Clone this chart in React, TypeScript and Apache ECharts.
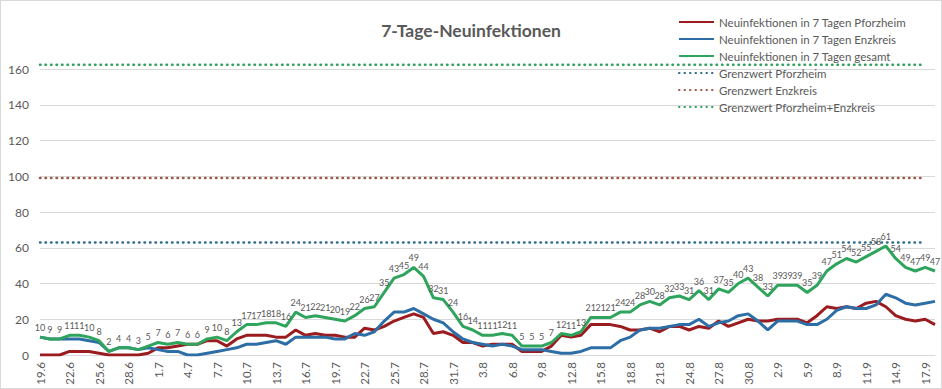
import React, { useEffect, useRef } from "react";
import * as echarts from "echarts";

const categories: string[] = [
  "19.6", "20.6", "21.6", "22.6", "23.6", "24.6", "25.6", "26.6", "27.6", "28.6", "29.6", "30.6",
  "1.7", "2.7", "3.7", "4.7", "5.7", "6.7", "7.7", "8.7", "9.7", "10.7", "11.7", "12.7", "13.7", "14.7", "15.7",
  "16.7", "17.7", "18.7", "19.7", "20.7", "21.7", "22.7", "23.7", "24.7", "25.7", "26.7", "27.7", "28.7", "29.7",
  "30.7", "31.7",
  "1.8", "2.8", "3.8", "4.8", "5.8", "6.8", "7.8", "8.8", "9.8", "10.8", "11.8", "12.8", "13.8", "14.8", "15.8",
  "16.8", "17.8", "18.8", "19.8", "20.8", "21.8", "22.8", "23.8", "24.8", "25.8", "26.8", "27.8", "28.8", "29.8",
  "30.8", "31.8",
  "1.9", "2.9", "3.9", "4.9", "5.9", "6.9", "7.9", "8.9", "9.9", "10.9", "11.9", "12.9", "13.9", "14.9", "15.9",
  "16.9", "17.9", "18.9",
];

const pforzheim: number[] = [
  0, 0, 0, 2, 2, 2, 1, 0, 0, 0, 0, 1,
  4, 4, 5, 6, 6, 8, 8, 5, 9, 11, 11, 11, 10, 10, 14, 11, 12, 11, 11, 10, 10, 15, 14, 16, 19, 21, 23, 21, 12, 13, 11,
  7, 7, 5, 6, 6, 6, 2, 2, 2, 5, 11, 10, 11, 17, 17, 17, 16, 14, 14, 15, 13, 16, 16, 14, 16, 15, 19, 16, 18, 20, 19,
  19, 20, 20, 20, 18, 22, 27, 26, 27, 26, 29, 30, 27, 22, 20, 19, 20, 17,
];

const enzkreis: number[] = [
  10, 9, 9, 9, 9, 8, 7, 2, 4, 4, 3, 4,
  3, 2, 2, 0, 0, 1, 2, 3, 4, 6, 6, 7, 8, 6, 10, 10, 10, 10, 9, 9, 12, 11, 13, 19, 24, 24, 26, 23, 20, 18, 13,
  9, 7, 6, 5, 6, 5, 3, 3, 3, 2, 1, 1, 2, 4, 4, 4, 8, 10, 14, 15, 15, 16, 17, 17, 20, 16, 18, 19, 22, 23, 19,
  14, 19, 19, 19, 17, 17, 20, 25, 27, 26, 26, 28, 34, 32, 29, 28, 29, 30,
];

const gesamt: number[] = [
  10, 9, 9, 11, 11, 10, 8, 2, 4, 4, 3, 5,
  7, 6, 7, 6, 6, 9, 10, 8, 13, 17, 17, 18, 18, 16, 24, 21, 22, 21, 20, 19, 22, 26, 27, 35, 43, 45, 49, 44, 32, 31, 24,
  16, 14, 11, 11, 12, 11, 5, 5, 5, 7, 12, 11, 13, 21, 21, 21, 24, 24, 28, 30, 28, 32, 33, 31, 36, 31, 37, 35, 40, 43, 38,
  33, 39, 39, 39, 35, 39, 47, 51, 54, 52, 55, 58, 61, 54, 49, 47, 49, 47,
];

const yTicks: number[] = [0, 20, 40, 60, 80, 100, 120, 140, 160];

const grenzwertPforzheim = 63;
const grenzwertEnzkreis = 99;
const grenzwertGesamt = 162.4;

const seriesNames = [
  "Neuinfektionen in 7 Tagen Pforzheim",
  "Neuinfektionen in 7 Tagen Enzkreis",
  "Neuinfektionen in 7 Tagen gesamt",
  "Grenzwert Pforzheim",
  "Grenzwert Enzkreis",
  "Grenzwert Pforzheim+Enzkreis",
];

const FONT = "Lato";
const TEXT_COLOR = "#595959";

export default function App() {
  const ref = useRef<HTMLDivElement>(null);

  useEffect(() => {
    if (!ref.current) return;
    const chart = echarts.init(ref.current, undefined, { renderer: "svg" });
    const thresholdCats = categories.slice(0, categories.length - 1);
    const dotted = (color: string) => ({
      color,
      width: 2.5,
      type: [0.5, 5] as number[],
      cap: "round" as const,
    });
    const mainLine = (name: string, data: number[], color: string, withLabels: boolean) => ({
      name,
      type: "line" as const,
      data,
      symbol: withLabels ? "circle" : "none",
      symbolSize: 0,
      showSymbol: withLabels,
      lineStyle: { color, width: 3 },
      itemStyle: { color },
      label: withLabels
        ? {
            show: true,
            position: "top" as const,
            distance: 5,
            fontSize: 9,
            fontFamily: FONT,
            color: "#595959",
          }
        : { show: false },
      z: 3,
    });
    const thresholdLine = (name: string, value: number, color: string) => ({
      name,
      type: "line" as const,
      data: thresholdCats.map(() => value),
      symbol: "none",
      clip: false,
      silent: true,
      lineStyle: dotted(color),
      itemStyle: { color },
      z: 2,
    });

    chart.setOption({
      animation: false,
      textStyle: { fontFamily: FONT },
      title: {
        text: "7-Tage-Neuinfektionen",
        left: "center",
        top: 15,
        textStyle: { fontSize: 17.5, fontWeight: "bold", color: TEXT_COLOR, fontFamily: FONT },
      },
      legend: {
        orient: "vertical",
        left: 677,
        top: 15,
        padding: 0,
        itemWidth: 35,
        itemHeight: 11,
        itemGap: 5,
        itemTextGap: 4,
        itemStyle: { opacity: 0 },
        textStyle: { fontSize: 11.5, color: TEXT_COLOR, fontFamily: FONT },
        data: seriesNames,
      },
      grid: { left: 39, right: 6, top: 68, bottom: 33 },
      xAxis: {
        type: "category",
        data: categories,
        boundaryGap: false,
        axisLine: { lineStyle: { color: "#d9d9d9" } },
        axisTick: { show: false },
        axisLabel: {
          rotate: 90,
          interval: 2,
          fontSize: 11.5,
          color: TEXT_COLOR,
          fontFamily: FONT,
          margin: 7,
        },
      },
      yAxis: {
        type: "value",
        min: yTicks[0],
        max: yTicks[yTicks.length - 1],
        interval: 20,
        axisLine: { show: false },
        axisTick: { show: false },
        splitLine: { lineStyle: { color: "#d9d9d9", width: 1 } },
        axisLabel: { fontSize: 12, color: TEXT_COLOR, fontFamily: FONT, margin: 11 },
      },
      series: [
        mainLine(seriesNames[0], pforzheim, "#9b1c1f", false),
        mainLine(seriesNames[1], enzkreis, "#2e6ea6", false),
        mainLine(seriesNames[2], gesamt, "#2fa45c", true),
        thresholdLine(seriesNames[3], grenzwertPforzheim, "#2f6b8c"),
        thresholdLine(seriesNames[4], grenzwertEnzkreis, "#a0584b"),
        thresholdLine(seriesNames[5], grenzwertGesamt, "#33a060"),
      ],
    });
    return () => chart.dispose();
  }, []);

  return (
    <div
      ref={ref}
      style={{
        position: "absolute",
        left: 0,
        top: 0,
        width: 942,
        height: 389,
        boxSizing: "border-box",
        border: "1px solid #d9d9d9",
        background: "#fff",
      }}
    />
  );
}
